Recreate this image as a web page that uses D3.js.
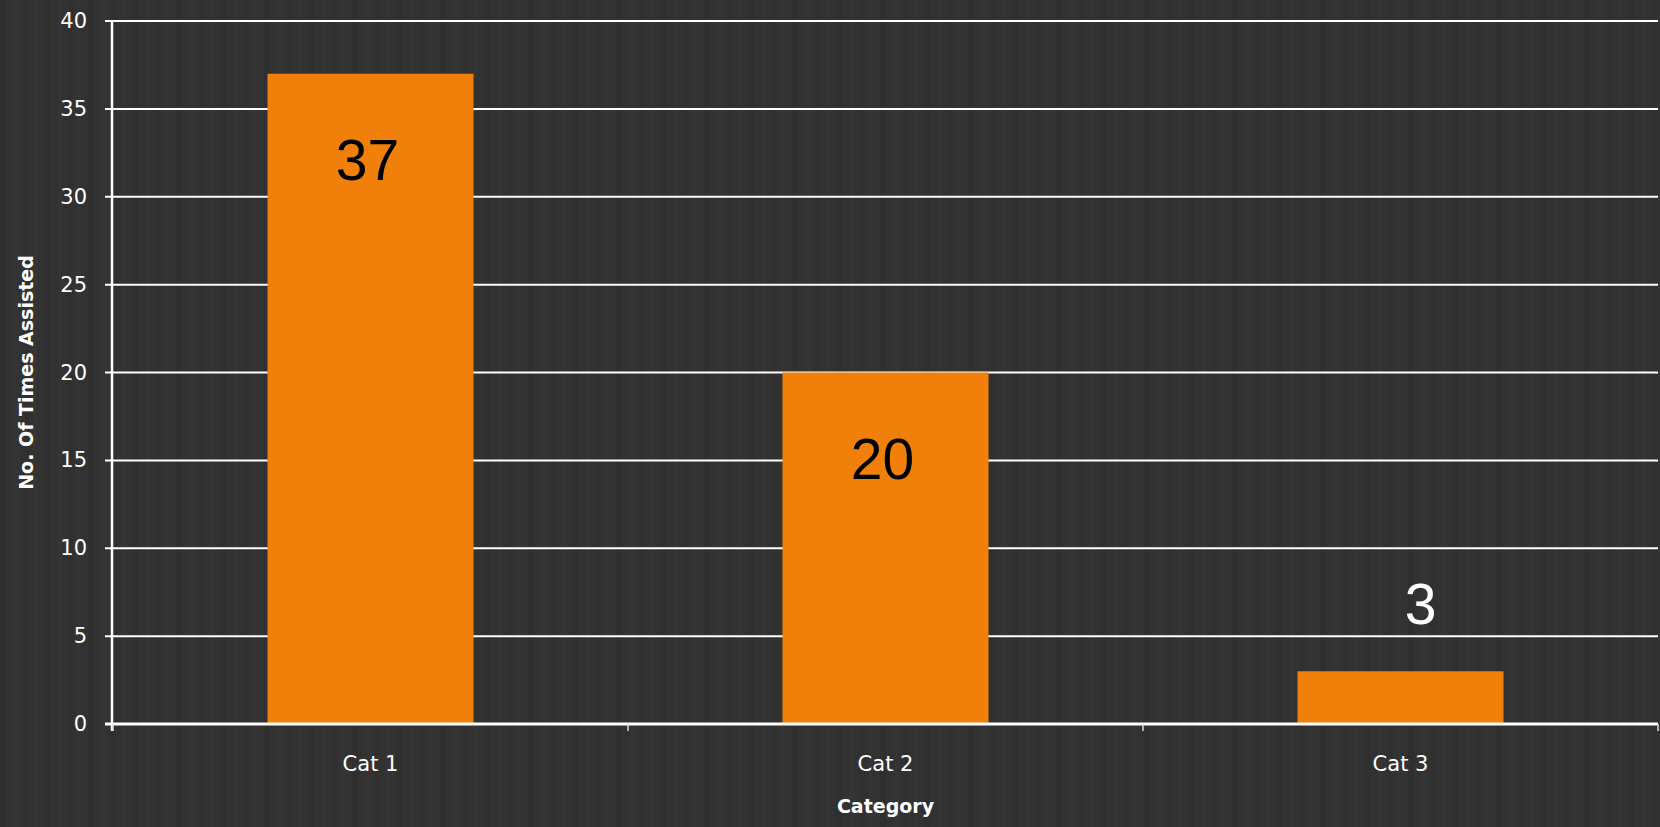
<!DOCTYPE html>
<html>
<head>
<meta charset="utf-8">
<script src="https://cdn.jsdelivr.net/npm/d3@7"></script>
<style>
  html, body { margin: 0; padding: 0; background: #313131; }
  svg { display: block; }
</style>
</head>
<body>
<svg id="chart" width="1660" height="827"></svg>
<script>
const categories = ["Cat 1", "Cat 2", "Cat 3"];
const values = [37, 20, 3];
const yTicks = [0, 5, 10, 15, 20, 25, 30, 35, 40];
const xTitle = "Category";
const yTitle = "No. Of Times Assisted";

(function () {
const W = 1660, H = 827;
const svg = d3.select("#chart");

// background with subtle vertical stripes
const defs = svg.append("defs");
const pat = defs.append("pattern").attr("id", "stripes")
  .attr("patternUnits", "userSpaceOnUse").attr("width", 44).attr("height", 10);
pat.append("rect").attr("width", 44).attr("height", 10).attr("fill", "#323232");
[[0, 6, "#2f2f2f"], [14, 5, "#343434"], [22, 7, "#303030"], [33, 4, "#343434"]].forEach(s => {
  pat.append("rect").attr("x", s[0]).attr("width", s[1]).attr("height", 10).attr("fill", s[2]);
});
svg.append("rect").attr("width", W).attr("height", H).attr("fill", "url(#stripes)");

const pLeft = 113, pRight = 1658, pTop = 21, pBottom = 724;

const x = d3.scaleBand().domain(categories).range([pLeft, pRight])
  .paddingInner(0.6).paddingOuter(0.3);
const y = d3.scaleLinear().domain([0, 40]).range([pBottom, pTop]);

// gridlines
svg.append("g").selectAll("line").data(yTicks.filter(d => d > 0)).join("line")
  .attr("x1", pLeft - 8).attr("x2", pRight)
  .attr("y1", d => y(d)).attr("y2", d => y(d))
  .attr("stroke", "#ffffff").attr("stroke-width", 2);

// bars
svg.append("g").selectAll("rect").data(values).join("rect")
  .attr("x", (d, i) => x(categories[i]))
  .attr("y", d => y(d))
  .attr("width", x.bandwidth())
  .attr("height", d => y(0) - y(d))
  .attr("fill", "#f0800a");

// y axis line
svg.append("line").attr("x1", pLeft - 1).attr("x2", pLeft - 1)
  .attr("y1", y(40)).attr("y2", y(0) + 7)
  .attr("stroke", "#ffffff").attr("stroke-width", 2.5);

// x axis line
svg.append("line").attr("x1", pLeft - 8).attr("x2", pRight)
  .attr("y1", y(0)).attr("y2", y(0))
  .attr("stroke", "#ffffff").attr("stroke-width", 3);

// x category boundary ticks
const step = x.step();
const bounds = d3.range(categories.length + 1).map(i => x.range()[0] + i * step);
svg.append("g").selectAll("line").data(bounds).join("line")
  .attr("x1", d => d).attr("x2", d => d)
  .attr("y1", y(0)).attr("y2", y(0) + 7)
  .attr("stroke", "#dddddd").attr("stroke-width", 1.5);

// y tick labels
svg.append("g").selectAll("text").data(yTicks).join("text")
  .attr("x", pLeft - 26).attr("y", d => y(d) + 7)
  .attr("text-anchor", "end")
  .attr("font-family", "DejaVu Sans, sans-serif").attr("font-size", 21)
  .attr("fill", "#ffffff").text(d => d);

// x tick labels
svg.append("g").selectAll("text").data(categories).join("text")
  .attr("x", d => x(d) + x.bandwidth() / 2).attr("y", 771)
  .attr("text-anchor", "middle")
  .attr("font-family", "DejaVu Sans, sans-serif").attr("font-size", 21)
  .attr("fill", "#ffffff").text(d => d);

// data labels (inside end when bar is tall enough, otherwise above)
const inside = d => (y(0) - y(d) > 150);
svg.append("g").selectAll("text").data(values).join("text")
  .attr("x", (d, i) => x(categories[i]) + x.bandwidth() / 2 + (inside(d) ? -3 : 20))
  .attr("y", d => inside(d) ? y(d) + 106 : y(d) - 47)
  .attr("text-anchor", "middle")
  .attr("font-family", "Liberation Sans, Arial, sans-serif").attr("font-size", 57)
  .attr("fill", d => inside(d) ? "#000000" : "#ffffff")
  .text(d => d);

// axis titles
svg.append("text").attr("x", x(categories[1]) + x.bandwidth() / 2).attr("y", 813)
  .attr("text-anchor", "middle")
  .attr("font-family", "DejaVu Sans, sans-serif").attr("font-weight", "bold").attr("font-size", 19)
  .attr("fill", "#ffffff").text(xTitle);

svg.append("text")
  .attr("transform", `translate(33, ${(y(0) + y(40)) / 2}) rotate(-90)`)
  .attr("text-anchor", "middle")
  .attr("font-family", "DejaVu Sans, sans-serif").attr("font-weight", "bold").attr("font-size", 19)
  .attr("fill", "#ffffff").text(yTitle);
})();
</script>
</body>
</html>
